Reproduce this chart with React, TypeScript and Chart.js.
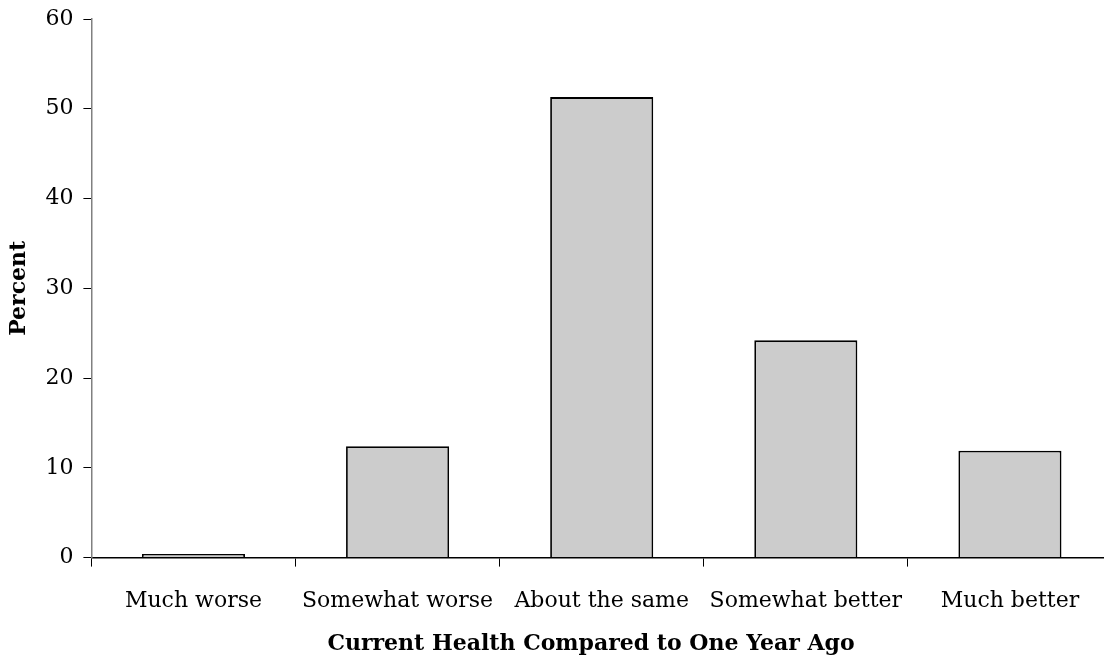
import React, { useEffect, useRef } from "react";
import { Chart, registerables } from "chart.js";

Chart.register(...registerables);

const categories = ["Much worse", "Somewhat worse", "About the same", "Somewhat better", "Much better"];
const percentValues = [0.4, 12.4, 51.3, 24.2, 11.9];
const yTicks = [0, 10, 20, 30, 40, 50, 60];
const xTitle = "Current Health Compared to One Year Ago";
const yTitle = "Percent";

const FONT = "'DejaVu Serif', serif";

const xTitlePlugin = {
  id: "xTitlePlugin",
  afterDraw(chart: any) {
    const ctx = chart.ctx;
    const xScale = chart.scales.x;
    ctx.save();
    ctx.font = `bold 22px ${FONT}`;
    ctx.fillStyle = "#000";
    ctx.textAlign = "center";
    ctx.textBaseline = "middle";
    ctx.fillText(xTitle, chart.width / 2, xScale.bottom + 9);
    ctx.restore();
  },
};

export default function App() {
  const ref = useRef<HTMLCanvasElement | null>(null);
  useEffect(() => {
    if (!ref.current) return;
    const chart = new Chart(ref.current, {
      type: "bar",
      data: {
        labels: categories,
        datasets: [
          {
            data: percentValues,
            backgroundColor: "#cccccc",
            borderColor: "#000000",
            borderWidth: 1.8,
            categoryPercentage: 0.505,
            barPercentage: 1,
          },
        ],
      },
      plugins: [xTitlePlugin],
      options: {
        responsive: false,
        animation: false,
        devicePixelRatio: 1,
        layout: { padding: { left: 2, right: 70, top: 19, bottom: 25 } },
        plugins: {
          legend: { display: false },
          tooltip: { enabled: false },
        },
        scales: {
          x: {
            type: "category",
            grid: {
              display: true,
              offset: true,
              drawOnChartArea: false,
              drawTicks: true,
              tickLength: 9,
              color: "#000",
              lineWidth: 1,
            },
            border: { display: true, color: "#000", width: 1.5 },
            ticks: {
              color: "#000",
              font: { family: FONT, size: 22 },
              padding: 21,
              maxRotation: 0,
              autoSkip: false,
            },
          },
          y: {
            min: 0,
            max: 60,
            afterBuildTicks: (axis: any) => {
              axis.ticks = yTicks.map((v) => ({ value: v }));
            },
            afterFit: (axis: any) => {
              axis.paddingTop = 0;
            },
            grid: {
              display: true,
              drawOnChartArea: false,
              drawTicks: true,
              tickLength: 8,
              color: "#000",
              lineWidth: 1,
            },
            border: { display: true, color: "#808080", width: 1.5 },
            ticks: {
              color: "#000",
              font: { family: FONT, size: 22 },
              padding: 10,
            },
            title: {
              display: true,
              text: yTitle,
              color: "#000",
              font: { family: FONT, size: 22, weight: "bold" },
              padding: { top: 4, bottom: 3 },
            },
          },
        },
      },
    });
    return () => chart.destroy();
  }, []);
  return (
    <div style={{ position: "absolute", left: 0, top: 0, width: 1104, height: 660, overflow: "hidden", background: "#fff" }}>
      <canvas ref={ref} width={1182} height={660} style={{ width: 1182, height: 660, display: "block" }} />
    </div>
  );
}
